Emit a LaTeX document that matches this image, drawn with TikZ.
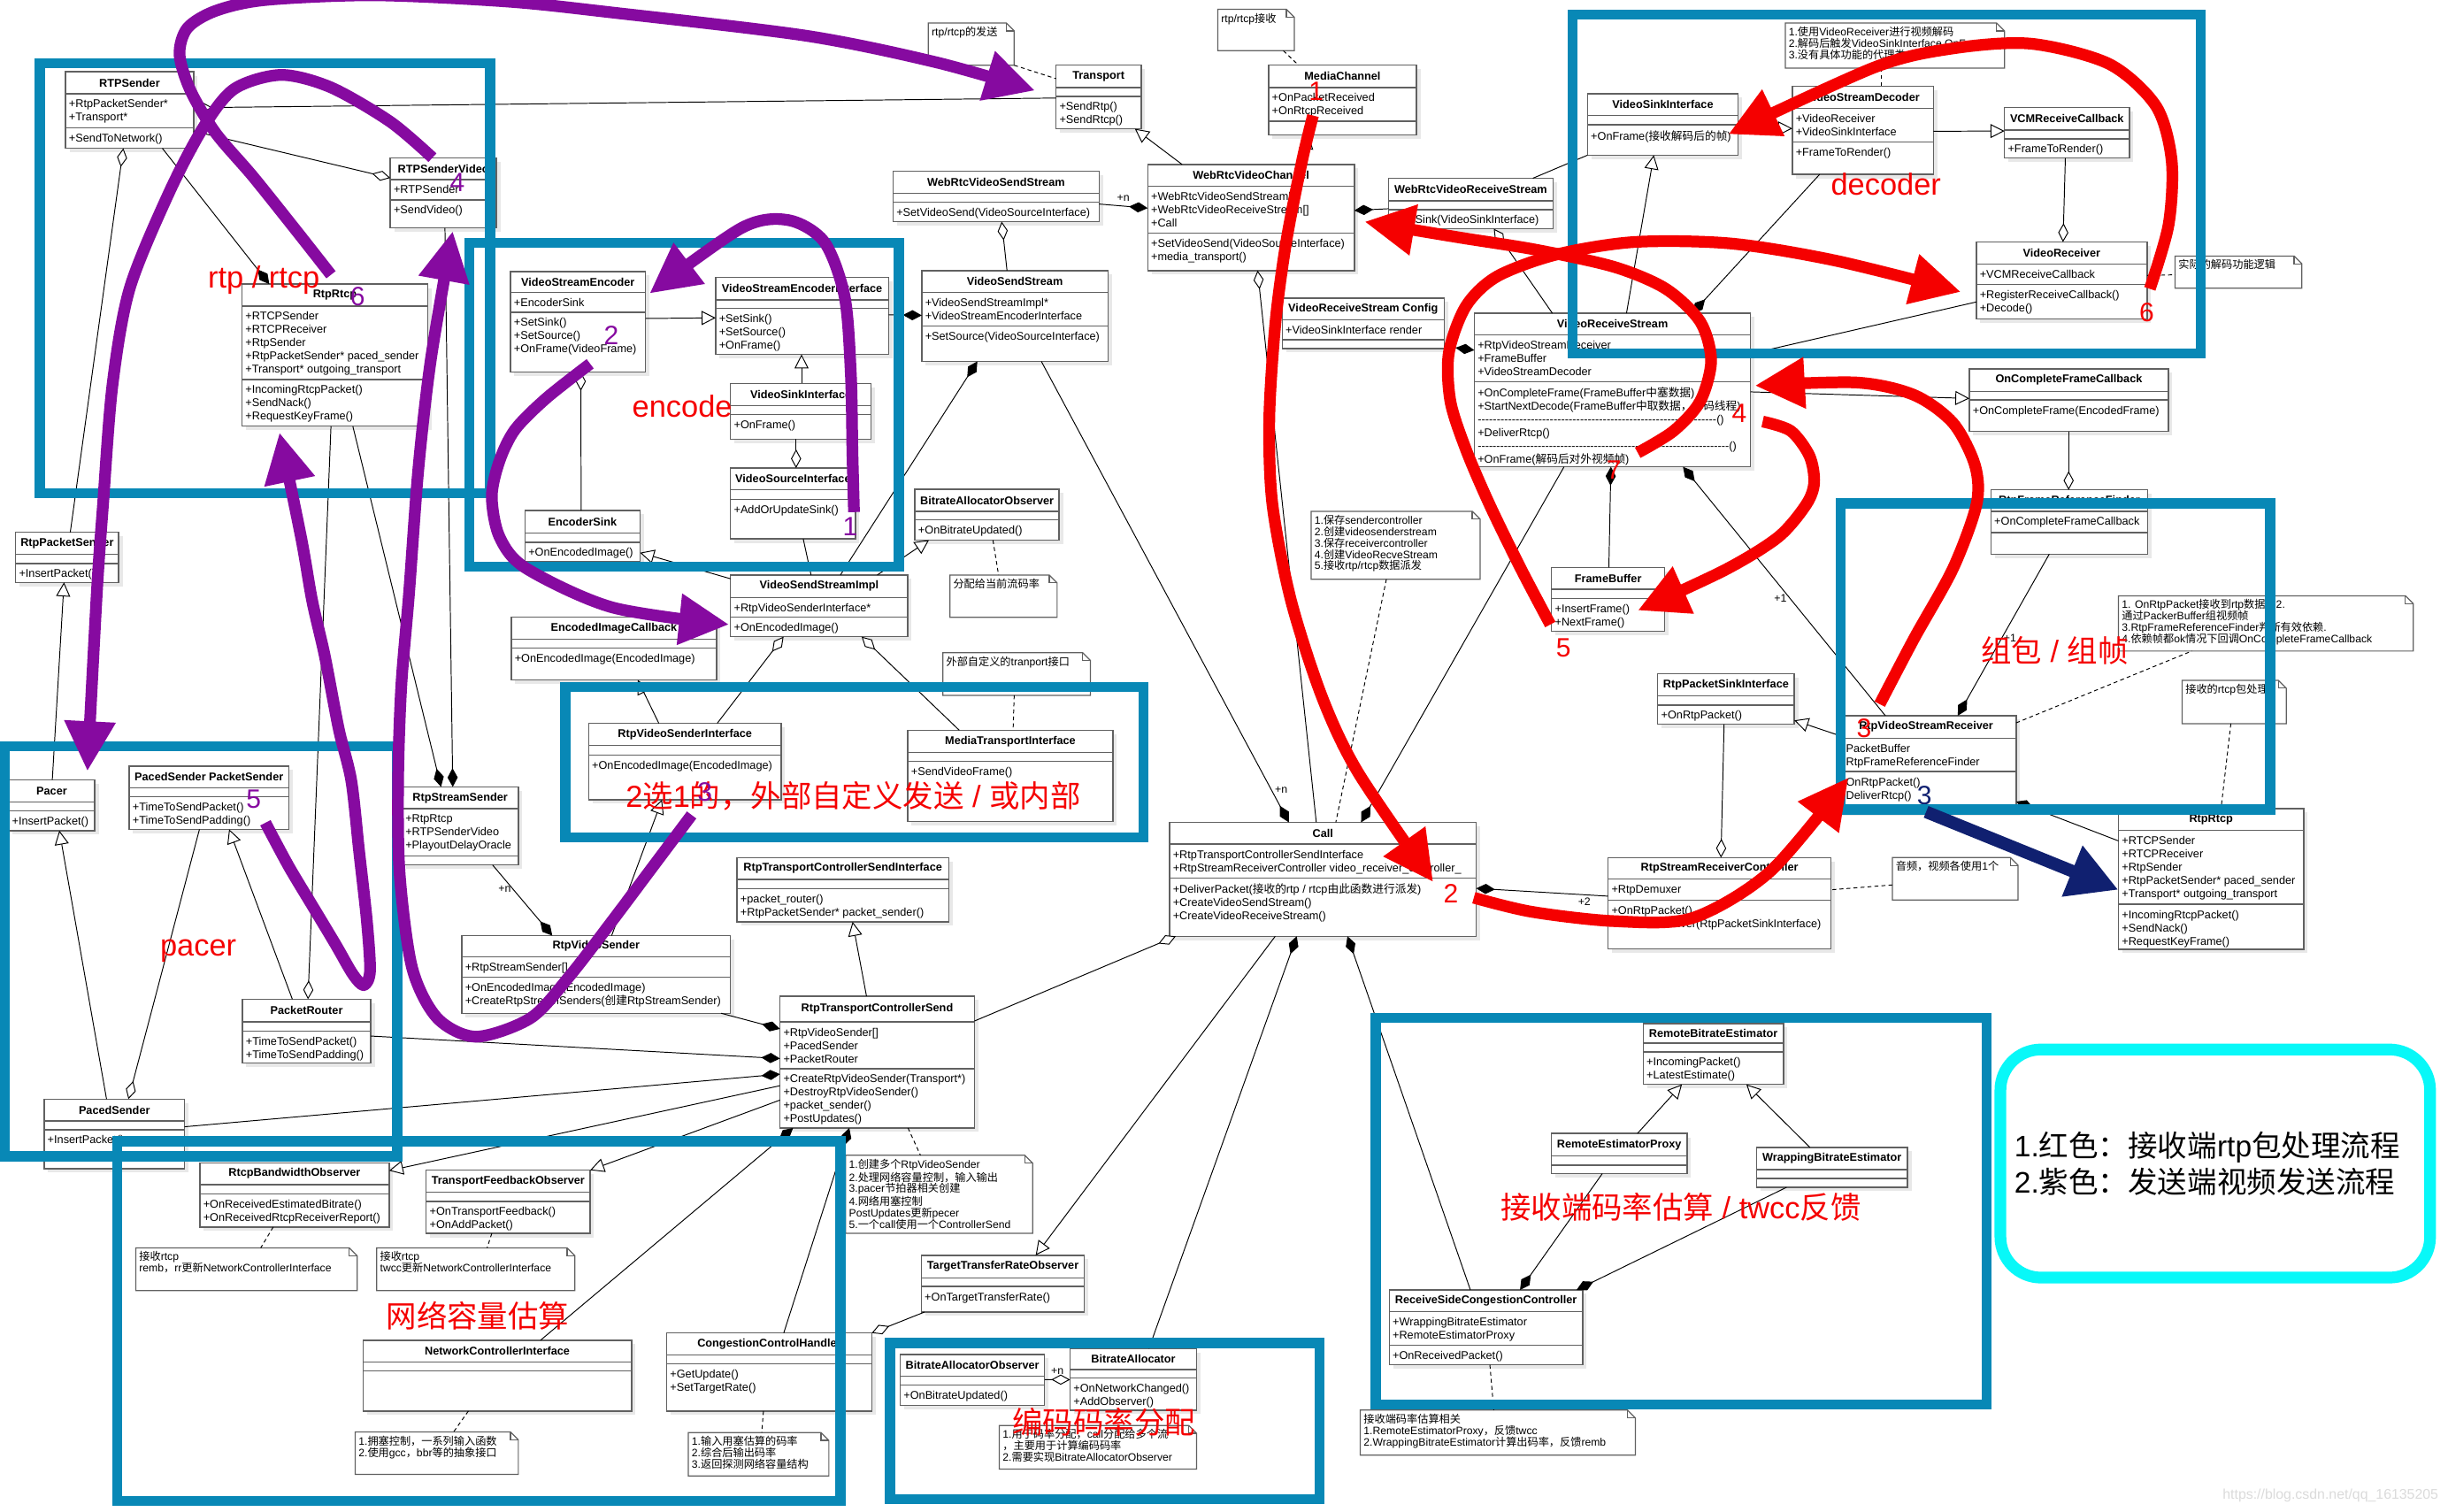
\documentclass[tikz,border=0pt]{standalone}
\usepackage{fontspec}
\setmainfont{Liberation Sans}
\newfontfamily\cjk{Noto Sans CJK SC}
\usetikzlibrary{arrows.meta, calc, fit}

% CJK runs are set in the CJK font
\XeTeXinterchartokenstate=1
\newXeTeXintercharclass\cjkclass
\count255="3000
\loop\ifnum\count255<"A000
  \XeTeXcharclass\count255=\cjkclass
  \advance\count255 by 1
\repeat
\count255="FF00
\loop\ifnum\count255<"FFF0
  \XeTeXcharclass\count255=\cjkclass
  \advance\count255 by 1
\repeat
\XeTeXinterchartoks 0 \cjkclass = {\begingroup\cjk}
\XeTeXinterchartoks 4095 \cjkclass = {\begingroup\cjk}
\XeTeXinterchartoks \cjkclass 0 = {\endgroup}
\XeTeXinterchartoks \cjkclass 4095 = {\endgroup}

\definecolor{frameblue}{RGB}{8,136,182}
\definecolor{flowred}{RGB}{245,0,0}
\definecolor{flowpurple}{RGB}{134,10,160}
\definecolor{flownavy}{RGB}{16,32,112}
\definecolor{legcyan}{RGB}{8,248,248}

\tikzstyle{clsbox}=[draw=black!62, line width=0.8pt, fill=white, inner sep=0pt, outer sep=0pt]
\tikzstyle{clsline}=[draw=black!62, line width=0.8pt]
\tikzstyle{clsshadow}=[fill=black!9]
\tikzstyle{clstitle}=[font=\bfseries\fontsize{7.2}{8.5}\selectfont, inner sep=0pt]
\tikzstyle{clstext}=[font=\fontsize{7.2}{8.5}\selectfont, align=left, anchor=north west, inner sep=0pt]
\tikzstyle{notebox}=[draw=black!62, line width=0.7pt, fill=white]
\tikzstyle{notetext}=[font=\fontsize{6.9}{7.3}\selectfont, align=left, anchor=north west, inner sep=0pt]
\tikzstyle{rel}=[draw=black, line width=0.55pt]
\tikzstyle{inherit}=[rel, -{Triangle[fill=white, length=9pt, width=9pt]}]
\tikzstyle{aggr}=[rel, {Diamond[fill=white, length=12pt, width=6.5pt]}-]
\tikzstyle{aggrend}=[rel, -{Diamond[fill=white, length=12pt, width=6.5pt]}]
\tikzstyle{comp}=[rel, {Diamond[length=12pt, width=6.5pt]}-]
\tikzstyle{compend}=[rel, -{Diamond[length=12pt, width=6.5pt]}]
\tikzstyle{notelink}=[rel, dash pattern=on 2.5pt off 2pt]
\tikzstyle{mult}=[font=\fontsize{7}{7}\selectfont, inner sep=0pt]
\tikzstyle{zone}=[draw=frameblue, line width=6.5pt, inner sep=0pt]
\tikzstyle{bigred}=[text=flowred, font=\fontsize{19.5}{19.5}\selectfont, inner sep=0pt]
\tikzstyle{num}=[font=\fontsize{17}{17}\selectfont, inner sep=0pt]
\tikzstyle{sendflow}=[draw=flowpurple, line width=7.5pt, line join=round, -{Triangle[length=32pt, width=31pt]}]
\tikzstyle{recvflow}=[draw=flowred, line width=7.5pt, line join=round, -{Triangle[length=32pt, width=31pt]}]
\tikzstyle{navyflow}=[draw=flownavy, line width=8pt, -{Triangle[length=32pt, width=33pt]}]

% class box: name, NW corner, SE corner, header bottom, attribute bottom, title, attributes, methods
\newcommand{\umlcls}[8]{%
  \fill[clsshadow] ($(#2)+(2.5,2.5)$) rectangle ($(#3)+(2.5,2.5)$);
  \node[clsbox, fit={(#2) (#3)}] (#1) {};
  \path (#1.west |- 0,#4) coordinate (#1-a) (#1.west |- 0,#5) coordinate (#1-b);
  \draw[clsline] (#1-a) -- (#1.east |- #1-a);
  \draw[clsline] (#1-b) -- (#1.east |- #1-b);
  \node[clstitle] (#1-t) at ($(#1.north)!.5!(#1.north |- #1-a)$) {#6};
  \node[clstext] (#1-f) at ([shift={(2pt,-3.6pt)}]#1-a) {#7};
  \node[clstext] (#1-m) at ([shift={(2pt,-3.6pt)}]#1-b) {#8};
}
% note with folded corner
\newcommand{\umlnote}[4]{%
  \node[fit={(#2) (#3)}, inner sep=0pt, outer sep=0pt] (#1) {};
  \filldraw[notebox] (#1.north west) -- ([xshift=-5pt]#1.north east) -- ([yshift=-5pt]#1.north east) -- (#1.south east) -- (#1.south west) -- cycle;
  \draw[notebox, fill=none] ([xshift=-5pt]#1.north east) |- ([yshift=-5pt]#1.north east);
  \node[notetext] (#1-t) at ([shift={(2pt,-2.2pt)}]#1.north west) {#4};
}
\newcommand{\dashrow}[1]{\hbox to #1{\xleaders\hbox{-}\hfill}()}
\newcommand{\rtcpattrs}{+RTCPSender\\+RTCPReceiver\\+RtpSender\\+RtpPacketSender* paced\_sender\\+Transport* outgoing\_transport}
\newcommand{\rtcpmeths}{+IncomingRtcpPacket()\\+SendNack()\\+RequestKeyFrame()}

\begin{document}
\begin{tikzpicture}[x=1pt, y=-1pt]
\useasboundingbox (0,0) rectangle (1568,968);
\fill[white] (0,0) rectangle (1568,968);

% sender classes
\umlcls{RTPSender}{42,46}{124,95}{60}{82}{RTPSender}{+RtpPacketSender*\\+Transport*}{+SendToNetwork()}
\umlcls{RTPSenderVideo}{250,101}{318,146}{115}{128}{RTPSenderVideo}{+RTPSender}{+SendVideo()}
\umlcls{RtpRtcpL}{155,182}{274,273}{196}{243}{RtpRtcp}{\rtcpattrs}{\rtcpmeths}
\umlcls{RtpPacketSender}{10,341}{76,373}{355}{361}{RtpPacketSender}{}{+InsertPacket()}
\umlcls{Pacer}{5.5,499.5}{60.75,532}{513.7}{519.5}{Pacer}{}{+InsertPacket()}
\umlcls{PacedSenderPS}{82.75,490.7}{185,531.2}{504.5}{510.2}{PacedSender PacketSender}{}{+TimeToSendPacket()\\+TimeToSendPadding()}
\umlcls{PacketRouter}{155.25,640}{237.5,681}{654.6}{660.4}{PacketRouter}{}{+TimeToSendPacket()\\+TimeToSendPadding()}
\umlcls{PacedSender}{28.25,704}{118.25,748.5}{718}{723.6}{PacedSender}{}{+InsertPacket()}
\umlcls{RtpStreamSender}{257.5,504}{332,554}{518}{548.3}{RtpStreamSender}{+RtpRtcp\\+RTPSenderVideo\\+PlayoutDelayOracle}{}
\umlcls{RtpVideoSender}{295.75,599.3}{467.9,649}{613}{625.9}{RtpVideoSender}{+RtpStreamSender[]}{+OnEncodedImage(EncodedImage)\\+CreateRtpStreamSenders(创建RtpStreamSender)}

% encoder classes
\umlcls{VSE}{327,174}{413.4,238.3}{187.2}{200}{VideoStreamEncoder}{+EncoderSink}{+SetSink()\\+SetSource()\\+OnFrame(VideoFrame)}
\umlcls{VSEI}{458.4,177.6}{569.1,227}{192}{197.5}{VideoStreamEncoderInterface}{}{+SetSink()\\+SetSource()\\+OnFrame()}
\umlcls{VideoSinkS}{467.9,245.5}{557.9,281.3}{259.7}{265.4}{VideoSinkInterface}{}{+OnFrame()}
\umlcls{VideoSourceI}{467.9,299.8}{548,345.2}{313.8}{320}{VideoSourceInterface}{}{+AddOrUpdateSink()}
\umlcls{EncoderSink}{336.25,327}{410,359.6}{341.5}{347.3}{EncoderSink}{}{+OnEncodedImage()}
\umlcls{EncodedImageCallback}{327.5,395.4}{459,435.5}{409.4}{415}{EncodedImageCallback}{}{+OnEncodedImage(EncodedImage)}
\umlcls{VSSI}{467.9,368.3}{581.4,407.8}{382.7}{395.4}{VideoSendStreamImpl}{+RtpVideoSenderInterface*}{+OnEncodedImage()}
\umlcls{RVSI}{377,463.3}{500.4,512.3}{477.3}{483.5}{RtpVideoSenderInterface}{}{+OnEncodedImage(EncodedImage)}
\umlcls{MTI}{581.4,467.7}{712.9,526.3}{481.8}{487.6}{MediaTransportInterface}{}{+SendVideoFrame()}
\umlcls{BAOU}{586,313.4}{678.4,346}{327.6}{333}{BitrateAllocatorObserver}{}{+OnBitrateUpdated()}
\umlcls{Transport}{676.4,41.8}{730.9,82.5}{56}{61.7}{Transport}{}{+SendRtp()\\+SendRtcp()}
\umlcls{WRVSS}{572,109.7}{704,142}{123.9}{129.6}{WebRtcVideoSendStream}{}{+SetVideoSend(VideoSourceInterface)}
\umlcls{VSS}{590.4,173.3}{709.6,231.5}{187.2}{208.9}{VideoSendStream}{+VideoSendStreamImpl*\\+VideoStreamEncoderInterface}{+SetSource(VideoSourceInterface)}

% channel, receive and decoder classes
\umlcls{WRVC}{735.1,105.3}{867.5,173.3}{119.3}{149.2}{WebRtcVideoChannel}{+WebRtcVideoSendStream[]\\+WebRtcVideoReceiveStream[]\\+Call}{+SetVideoSend(VideoSourceInterface)\\+media\_transport()}
\umlcls{MediaChannel}{812.5,41.8}{907.3,86.4}{56}{77.6}{MediaChannel}{+OnPacketReceived\\+OnRtcpReceived}{}
\umlcls{WRVRS}{889.3,114.2}{994.8,146.5}{128.6}{134.2}{WebRtcVideoReceiveStream}{}{+SetSink(VideoSinkInterface)}
\umlcls{VRSConfig}{821.3,191}{925,223.3}{204.7}{217.7}{VideoReceiveStream Config}{+VideoSinkInterface render}{}
\umlcls{VRS}{944.3,200.6}{1121.3,299}{214.4}{244.4}{VideoReceiveStream}{+RtpVideoStreamReceiver\\+FrameBuffer\\+VideoStreamDecoder}{+OnCompleteFrame(FrameBuffer中塞数据)\\+StartNextDecode(FrameBuffer中取数据，解码线程)\\\dashrow{153pt}\\+DeliverRtcp()\\\dashrow{161pt}\\+OnFrame(解码后对外视频帧)}
\umlcls{VideoSinkR}{1016.8,60}{1113.3,99.4}{74}{79.8}{VideoSinkInterface}{}{+OnFrame(接收解码后的帧)}
\umlcls{VSD}{1148,55.1}{1238.4,111.7}{69.5}{91}{VideoStreamDecoder}{+VideoReceiver\\+VideoSinkInterface}{+FrameToRender()}
\umlcls{VCM}{1283.9,68.9}{1363.9,101.2}{83.3}{88.9}{VCMReceiveCallback}{}{+FrameToRender()}
\umlcls{VideoReceiver}{1265.9,155}{1375.2,204.3}{169.1}{182.1}{VideoReceiver}{+VCMReceiveCallback}{+RegisterReceiveCallback()\\+Decode()}
\umlcls{OCFC}{1261.4,236.2}{1388.9,276.3}{250.6}{256.2}{OnCompleteFrameCallback}{}{+OnCompleteFrame(EncodedFrame)}
\umlcls{RFRF}{1275.2,313.8}{1375.7,354.9}{327.5}{341.1}{RtpFrameReferenceFinder}{+OnCompleteFrameCallback}{}
\umlcls{RVSR}{1176,458.4}{1291.4,520}{472.8}{494.2}{RtpVideoStreamReceiver}{+PacketBuffer\\+RtpFrameReferenceFinder}{+OnRtpPacket()\\+DeliverRtcp()}
\umlcls{RtpRtcpR}{1356.9,517.9}{1475.6,608}{531.8}{579.2}{RtpRtcp}{\rtcpattrs}{\rtcpmeths}
\umlcls{RPSI}{1061.8,431.4}{1149.3,463.9}{445.8}{451.6}{RtpPacketSinkInterface}{}{+OnRtpPacket()}
\umlcls{FrameBuffer}{993.8,363.5}{1066.3,404.3}{377.5}{383.3}{FrameBuffer}{}{+InsertFrame()\\+NextFrame()}
\umlcls{Call}{749.1,526.7}{945.6,599.7}{540.7}{562.3}{Call}{+RtpTransportControllerSendInterface\\+RtpStreamReceiverController video\_receiver\_controller\_}{+DeliverPacket(接收的rtp / rtcp由此函数进行派发)\\+CreateVideoSendStream()\\+CreateVideoReceiveStream()}
\umlcls{RSRC}{1030,549.3}{1172.8,607.6}{563.1}{576.5}{RtpStreamReceiverController}{+RtpDemuxer}{+OnRtpPacket()\\+CreateReceiver(RtpPacketSinkInterface)}

% transport controller and congestion classes
\umlcls{RTCSI}{472.1,549.3}{607.6,590.5}{563.3}{569.3}{RtpTransportControllerSendInterface}{}{+packet\_router()\\+RtpPacketSender* packet\_sender()}
\umlcls{RTCS}{499.6,638}{624.1,722.5}{654.6}{684.5}{RtpTransportControllerSend}{+RtpVideoSender[]\\+PacedSender\\+PacketRouter}{+CreateRtpVideoSender(Transport*)\\+DestroyRtpVideoSender()\\+packet\_sender()\\+PostUpdates()}
\umlcls{RBO}{128,744.8}{249.25,785.9}{758.8}{764.7}{RtcpBandwidthObserver}{}{+OnReceivedEstimatedBitrate()\\+OnReceivedRtcpReceiverReport()}
\umlcls{TFO}{273,749.5}{378,790}{763.7}{769.5}{TransportFeedbackObserver}{}{+OnTransportFeedback()\\+OnAddPacket()}
\umlcls{NCI}{232.5,858.4}{404.6,903.8}{872.3}{878.1}{NetworkControllerInterface}{}{}
\umlcls{CCH}{427,853.8}{558.4,903.8}{867.8}{873.5}{CongestionControlHandler}{}{+GetUpdate()\\+SetTargetRate()}
\umlcls{TTRO}{590.1,804}{694.6,840.4}{818.4}{824}{TargetTransferRateObserver}{}{+OnTargetTransferRate()}
\umlcls{BAOL}{576.6,867.6}{669.1,900.1}{881.6}{887.2}{BitrateAllocatorObserver}{}{+OnBitrateUpdated()}
\umlcls{BA}{685.4,863.7}{766.4,903.2}{877.1}{882.6}{BitrateAllocator}{}{+OnNetworkChanged()\\+AddObserver()}
\umlcls{RBE}{1052.5,655.6}{1142.3,694.6}{668.2}{673.7}{RemoteBitrateEstimator}{}{+IncomingPacket()\\+LatestEstimate()}
\umlcls{REP}{993.6,726}{1080.6,751.7}{740.4}{746.2}{RemoteEstimatorProxy}{}{}
\umlcls{WBE}{1125,734.9}{1221.8,760.5}{749.2}{754.8}{WrappingBitrateEstimator}{}{}
\umlcls{RSCC}{889.8,826.2}{1013.8,874.2}{840}{861.5}{ReceiveSideCongestionController}{+WrappingBitrateEstimator\\+RemoteEstimatorProxy}{+OnReceivedPacket()}

% notes
\umlnote{nSend}{594.6,14.8}{649.6,41.8}{rtp/rtcp的发送}
\umlnote{nRecv}{780,6}{829,32.5}{rtp/rtcp接收}
\umlnote{nDecoder}{1143.5,14.8}{1283.9,43.6}{1.使用VideoReceiver进行视频解码\\2.解码后触发VideoSinkInterface.OnFrame\\3.没有具体功能的代理类}
\umlnote{nReal}{1393.2,164}{1474.4,184.6}{实际的解码功能逻辑}
\umlnote{nAlloc}{608.4,368.3}{677.1,395.4}{分配给当前流码率}
\umlnote{nMedia}{603.9,418}{698.4,445.4}{外部自定义的tranport接口}
\umlnote{nCall}{839.8,327.5}{948,371}{1.保存sendercontroller\\2.创建videosenderstream\\3.保存receivercontroller\\4.创建VideoRecveStream\\5.接收rtp/rtcp数据派发}
\umlnote{nRtpRecv}{1356.9,381.6}{1545.7,417}{1. OnRtpPacket接收到rtp数据。2.\\通过PackerBuffer组视频帧\\3.RtpFrameReferenceFinder判断有效依赖.\\4.依赖帧都ok情况下回调OnCompleteFrameCallback}
\umlnote{nRtcp}{1397.7,435.8}{1464.4,463.5}{接收的rtcp包处理}
\umlnote{nAudio}{1212.1,549.3}{1292.6,576.5}{音频，视频各使用1个}
\umlnote{nCtrl}{541.6,740}{661.4,790}{1.创建多个RtpVideoSender\\2.处理网络容量控制，输入输出\\3.pacer节拍器相关创建\\4.网络用塞控制\\PostUpdates更新pecer\\5.一个call使用一个ControllerSend}
\umlnote{nRemb}{87,799.3}{228.75,826.7}{接收rtcp\\remb，rr更新NetworkControllerInterface}
\umlnote{nTwcc}{241.25,799.3}{368.25,826.7}{接收rtcp\\twcc更新NetworkControllerInterface}
\umlnote{nNci}{227.5,917.2}{332,944.4}{1.拥塞控制，一系列输入函数\\2.使用gcc，bbr等的抽象接口}
\umlnote{nCch}{440.9,917.6}{530.9,945.4}{1.输入用塞估算的码率\\2.综合后输出码率\\3.返回探测网络容量结构}
\umlnote{nBa}{640.1,913}{766.4,940.9}{1.用于码率分配，call分配给多个流\\，主要用于计算编码码率\\2.需要实现BitrateAllocatorObserver}
\umlnote{nRscc}{871.3,903.2}{1047.5,932}{接收端码率估算相关\\1.RemoteEstimatorProxy，反馈twcc\\2.WrappingBitrateEstimator计算出码率，反馈remb}

% relations
\draw[aggr] ([yshift=-23pt]RTPSender.north east) -- ([yshift=-21pt]Transport.north west);
\draw[aggrend] ([yshift=-38pt]RTPSender.north east) -- ([yshift=-13pt]RTPSenderVideo.north west);
\draw[compend] ([xshift=-20pt]RTPSender.south east) -- ([xshift=17.5pt]RtpRtcpL.north west);
\draw[aggr] ([xshift=37pt]RTPSender.south west) -- ([xshift=35pt]RtpPacketSender.north west);
\draw[aggrend] ([xshift=57pt]RtpRtcpL.south west) -- ([xshift=42pt]PacketRouter.north west);
\draw[compend] ([xshift=71pt]RtpRtcpL.south west) -- ([xshift=25pt]RtpStreamSender.north west);
\draw[compend] ([xshift=35pt]RTPSenderVideo.south west) -- ([xshift=32.5pt]RtpStreamSender.north west);
\draw[inherit] ([xshift=28pt]Pacer.north west) -- ([xshift=31pt]RtpPacketSender.south west);
\draw[inherit] ([xshift=40pt]PacedSender.north west) -- ([xshift=32.5pt]Pacer.south west);
\draw[aggrend] ([xshift=45pt]PacedSenderPS.south west) -- ([xshift=54pt]PacedSender.north west);
\draw[inherit] ([xshift=32pt]PacketRouter.north west) -- ([xshift=64pt]PacedSenderPS.south west);
\draw[compend] ([yshift=-23.6pt]PacketRouter.north east) -- ([yshift=-40pt]RTCS.north west);
\draw[compend] ([yshift=-17.7pt]PacedSender.north east) -- ([yshift=-50pt]RTCS.north west);
\draw[inherit] ([yshift=-57.4pt]RTCS.north west) -- ([yshift=-5pt]RBO.north east);
\draw[inherit] ([yshift=-66.6pt]RTCS.north west) -- (TFO.north east);
\draw[comp] ([xshift=8.4pt]RTCS.south west) -- ([xshift=113.75pt]NCI.north west);
\draw[comp] ([xshift=44.4pt]RTCS.south west) -- ([xshift=75pt]CCH.north west);
\draw[compend] ([xshift=-6pt]RtpVideoSender.south east) -- ([yshift=-21pt]RTCS.north west);
\draw[compend] ([xshift=-16.5pt]RtpStreamSender.south east) -- node[mult, pos=.34, left=1pt] {+n} ([xshift=58pt]RtpVideoSender.north west);
\draw[inherit] ([xshift=96pt]RtpVideoSender.north west) -- ([xshift=47pt]RVSI.south west);
\draw[inherit] ([xshift=45pt]RVSI.north west) -- ([xshift=81pt]EncodedImageCallback.south west);
\draw[aggr] ([xshift=34pt]VSSI.south west) -- ([xshift=-41pt]RVSI.north east);
\draw[aggr] ([xshift=84pt]VSSI.south west) -- ([xshift=33pt]MTI.north west);
\draw[inherit] ([yshift=-2.4pt]VSSI.north west) -- ([yshift=-27pt]EncoderSink.north east);
\draw[rel] ([xshift=46.6pt]VideoSourceI.south west) -- ([xshift=51.6pt]VSSI.north west);
\draw[inherit] ([xshift=94pt]VSSI.north west) -- ([xshift=9pt]BAOU.south west);
\draw[comp] ([xshift=35.6pt]VSS.south west) -- ([xshift=70.4pt]VSSI.north west);
\draw[compend] ([xshift=76.6pt]VSS.south west) -- node[mult, pos=.93, right=2pt] {+n} ([xshift=76.4pt]Call.north west);
\draw[compend] ([yshift=-24pt]VSEI.north east) -- ([yshift=-28.7pt]VSS.north west);
\draw[inherit] ([yshift=-30pt]VSE.north east) -- ([yshift=-26pt]VSEI.north west);
\draw[inherit] ([xshift=45.5pt]VideoSinkS.north west) -- ([xshift=55pt]VSEI.south west);
\draw[aggrend] ([xshift=42pt]VideoSinkS.south west) -- ([xshift=42pt]VideoSourceI.north west);
\draw[aggr] ([xshift=45pt]VSE.south west) -- ([xshift=36pt]EncoderSink.north west);
\draw[notelink] (nSend.south east) -- ([yshift=-8.6pt]Transport.north west);
\draw[inherit] ([xshift=22pt]WRVC.north west) -- ([xshift=-4pt]Transport.south east);
\draw[compend] ([yshift=-21pt]WRVSS.north east) -- node[mult, above=3pt] {+n} ([yshift=-28pt]WRVC.north west);
\draw[aggr] ([xshift=69.6pt]WRVSS.south west) -- ([xshift=54.6pt]VSS.north west);
\draw[inherit] ([xshift=100pt]WRVC.north west) -- ([xshift=25.5pt]MediaChannel.south west);
\draw[notelink] ([xshift=-7pt]nRecv.south east) -- ([xshift=19.3pt]MediaChannel.north west);
\draw[compend] ([yshift=-19.5pt]WRVRS.north west) -- ([yshift=-29.5pt]WRVC.north east);
\draw[aggr] ([xshift=70.4pt]WRVC.south west) -- ([xshift=94pt]Call.north west);
\draw[aggr] ([xshift=67.5pt]WRVRS.south west) -- ([xshift=50pt]VRS.north west);
\draw[rel] ([xshift=-13pt]WRVRS.north east) -- (VideoSinkR.south west);
\draw[compend] ([yshift=-30.8pt]VRSConfig.north east) -- ([yshift=-23.7pt]VRS.north west);
\draw[inherit] ([xshift=97.5pt]VRS.north west) -- ([xshift=42.5pt]VideoSinkR.south west);
\draw[compend] ([xshift=17.5pt]VSD.south west) -- ([xshift=139.7pt]VRS.north west);
\draw[inherit] ([yshift=-22.3pt]VideoSinkR.north east) -- ([yshift=-27.2pt]VSD.north west);
\draw[inherit] ([yshift=-29pt]VSD.north east) -- ([yshift=-15pt]VCM.north west);
\draw[aggrend] ([xshift=39pt]VCM.south west) -- ([xshift=55.5pt]VideoReceiver.north west);
\draw[notelink] ([xshift=61.5pt]nDecoder.south west) -- ([xshift=57pt]VSD.north west);
\draw[notelink] ([yshift=-21.5pt]VideoReceiver.north east) -- ([yshift=-12pt]nReal.north west);
\draw[rel] ([yshift=-26pt]VRS.north east) -- ([yshift=-38.4pt]VideoReceiver.north west);
\draw[inherit] ([yshift=-50.4pt]VRS.north east) -- ([yshift=-19pt]OCFC.north west);
\draw[aggrend] ([xshift=63.6pt]OCFC.south west) -- ([xshift=49.8pt]RFRF.north west);
\draw[compend] ([xshift=37.4pt]RFRF.south west) -- node[mult, pos=.52, right=1pt] {+1} ([xshift=78pt]RVSR.north west);
\draw[comp] ([xshift=133.7pt]VRS.south west) -- node[mult, pos=.53, left=2pt] {+1} ([xshift=31.6pt]RVSR.north west);
\draw[comp] ([xshift=87.5pt]VRS.south west) -- ([xshift=36.7pt]FrameBuffer.north west);
\draw[compend] ([xshift=57.5pt]VRS.south west) -- ([xshift=122.7pt]Call.north west);
\draw[notelink] ([xshift=48.2pt]nCall.south west) -- ([xshift=106.5pt]Call.north west);
\draw[inherit] ([yshift=-12pt]RVSR.north west) -- ([yshift=-30pt]RPSI.north east);
\draw[aggrend] ([xshift=42.5pt]RPSI.south west) -- ([xshift=72.3pt]RSRC.north west);
\draw[compend] ([yshift=-24.7pt]RSRC.north west) -- node[mult, pos=.18, below=2pt] {+2} ([yshift=-42.3pt]Call.north east);
\draw[notelink] ([yshift=-17.5pt]nAudio.north west) -- ([yshift=-20.6pt]RSRC.north east);
\draw[notelink] ([yshift=-4.6pt]RVSR.north east) -- ([xshift=47pt]nRtpRecv.south west);
\draw[notelink] ([xshift=31.2pt]nRtcp.south west) -- ([xshift=65.7pt]RtpRtcpR.north west);
\draw[comp] ([yshift=-55pt]RVSR.north east) -- ([yshift=-20.7pt]RtpRtcpR.north west);
\draw[aggr] ([xshift=4pt]Call.south west) -- ([yshift=-16pt]RTCS.north east);
\draw[inherit] ([xshift=55.4pt]RTCS.north west) -- ([xshift=74pt]RTCSI.south west);
\draw[inherit] ([xshift=67.7pt]Call.south west) -- ([xshift=73.3pt]TTRO.north west);
\draw[comp] ([xshift=81.5pt]Call.south west) -- ([xshift=50.5pt]BA.north west);
\draw[comp] ([xshift=114pt]Call.south west) -- ([xshift=52pt]RSCC.north west);
\draw[notelink] ([xshift=82pt]RTCS.south west) -- ([xshift=48pt]nCtrl.north west);
\draw[aggrend] ([xshift=2pt]TTRO.south west) -- (CCH.north east);
\draw[notelink] ([xshift=62pt]CCH.south west) -- ([xshift=47pt]nCch.north west);
\draw[aggrend] ([yshift=-16pt]BAOL.north east) -- node[mult, above=3pt] {+n} ([yshift=-20pt]BA.north west);
\draw[notelink] ([xshift=47pt]RBO.south west) -- ([xshift=80pt]nRemb.north west);
\draw[notelink] ([xshift=42pt]TFO.south west) -- ([xshift=70.75pt]nTwcc.north west);
\draw[notelink] ([xshift=67.5pt]NCI.south west) -- ([xshift=63pt]nNci.north west);
\draw[inherit] ([xshift=55.2pt]REP.north west) -- ([xshift=24.8pt]RBE.south west);
\draw[inherit] ([xshift=34.3pt]WBE.north west) -- ([xshift=66.1pt]RBE.south west);
\draw[compend] ([xshift=32.7pt]REP.south west) -- ([xshift=83.8pt]RSCC.north west);
\draw[compend] ([xshift=19.3pt]WBE.south west) -- ([xshift=-4pt]RSCC.north east);
\draw[notelink] ([xshift=64.5pt]RSCC.south west) -- ([xshift=85.5pt]nRscc.north west);
\draw[notelink] ([xshift=50pt]BAOU.south west) -- ([xshift=31.2pt]nAlloc.north west);
\draw[notelink] ([xshift=45.7pt]nMedia.south west) -- ([xshift=67.5pt]MTI.north west);

\node[num, text=flownavy] (n3) at (1232.6,509.7) {3};

% blue zones
\node[zone, fit={(25.5,40.4) (314,316)}] (zoneRtp) {};
\node[zone, fit={(300.6,155.5) (575.8,363)}] (zoneEncode) {};
\node[zone, fit={(362,440) (732.5,536.5)}] (zoneChoice) {};
\node[zone, fit={(1007.4,9.3) (1409.5,226.3)}] (zoneDecoder) {};
\node[zone, fit={(1179,322.5) (1454,518.5)}] (zoneFrame) {};
\node[zone, fit={(75.1,730.9) (538.4,961.4)}] (zoneNet) {};
\node[zone, fit={(570.2,860.3) (845.2,960.3)}] (zoneAlloc) {};
\node[zone, fit={(3,478) (254.5,740.7)}] (zonePacer) {};
\node[zone, fit={(881.1,652.1) (1272.6,899.5)}] (zoneRemb) {};

% legend
\node[draw=legcyan, line width=7.5pt, rounded corners=26pt, inner sep=0pt, fit={(1281.3,672.2) (1556.5,818.3)}] (legend) {};
\node[font=\fontsize{19}{23.5}\selectfont, align=left, anchor=west, inner sep=0pt] (legendtxt) at ([xshift=12.5pt]legend.west) {1.红色：接收端rtp包处理流程\\2.紫色：发送端视频发送流程};
\node[font=\fontsize{9}{9}\selectfont, text=black!14, anchor=east, inner sep=0pt] (wm) at (1562,958) {https://blog.csdn.net/qq\_16135205};

% red zone labels
\node[bigred] (lblRtp) at (169,179.5) {rtp / rtcp};
\node[bigred] (lblEncode) at (437,260) {encode};
\node[bigred] (lblPacer) at (127,609) {pacer};
\node[bigred] (lblDecoder) at (1208,118) {decoder};
\node[bigred] (lblChoice) at (546.5,510) {2选1的，外部自定义发送 / 或内部};
\node[bigred] (lblFrame) at (1316,417) {组包 / 组帧};
\node[bigred] (lblNet) at (306,843) {网络容量估算};
\node[bigred] (lblAlloc) at (707,911) {编码码率分配};
\node[bigred] (lblRemb) at (1076.6,773) {接收端码率估算 / twcc反馈};

% send flow
\draw[sendflow] plot[smooth] coordinates {(547,328) (546,290) (545,240) (541,190) (528,155) (505,141) (475,146) (416,188)};
\draw[sendflow] plot[smooth] coordinates {(378,233) (350,255) (330,275) (320,295) (315,318) (320,344) (337,364) (392,389) (467,400)};
\draw[sendflow] plot[smooth] coordinates {(443,522) (416,558) (392,590) (365,625) (340,652) (305,664) (280,652) (264,620) (256,560) (255,500) (257,440) (262,380) (268,300) (276,230) (290,148)};
\draw[sendflow] plot[smooth] coordinates {(277,101) (250,78) (212,56) (180,48) (150,57) (130,82) (108,124) (83,185) (72,247) (66,323) (62,380) (56,494)};
\draw[sendflow] plot[smooth] coordinates {(170,527) (185,555) (200,580) (215,605) (226,624) (233,631) (237,622) (235,590) (230,545) (225,500) (217,467) (208,420) (200,385) (193,345) (179,277)};
\draw[sendflow] plot[smooth] coordinates {(212,176) (190,148) (162,113) (138,85) (122,58) (115,35) (120,18) (138,7) (170,0) (240,-3) (325,1) (392,8) (517,23) (600,40) (663,58)};

% receive flow
\draw[recvflow] plot[smooth] coordinates {(841,74) (834,103) (824,154) (817,206) (813,268) (815,323) (827,385) (847,447) (870,495) (918,565)};
\draw[recvflow] plot[smooth] coordinates {(944,575) (981,584) (1034,590) (1084,588) (1134,558) (1184,498)};
\draw[recvflow] plot[smooth] coordinates {(1204,451) (1226,409) (1251,364) (1266,323) (1265,298) (1251,271) (1226,253) (1189,245) (1124,247)};
\draw[recvflow] plot[smooth] coordinates {(1129,270) (1147,276) (1159,292) (1162,309) (1157,323) (1139,344) (1105,365) (1049,391)};
\draw[recvflow] plot[smooth] coordinates {(993,400) (974,364) (954,323) (939,288) (929,257) (928,226) (939,196) (959,177) (997,163) (1047,155) (1109,156) (1176,167) (1256,187)};
\draw[recvflow] plot[smooth] coordinates {(1377,185) (1389,144) (1391,103) (1381,68) (1351,41) (1301,28) (1251,31) (1201,43) (1107,86)};
\draw[recvflow] plot[smooth] coordinates {(1049,290) (1072,276) (1089,257) (1096,231) (1089,206) (1067,185) (1034,171) (984,160) (934,152) (874,142)};
\draw[navyflow] (RVSR.south) -- ([yshift=-7pt]RtpRtcpR.west);

% step numbers
\node[num, text=flowpurple] (p1) at (544.6,337) {1};
\node[num, text=flowpurple] (p2) at (391.5,215) {2};
\node[num, text=flowpurple] (p3) at (451.5,507.5) {3};
\node[num, text=flowpurple] (p4) at (293,117) {4};
\node[num, text=flowpurple] (p5) at (162.5,512) {5};
\node[num, text=flowpurple] (p6) at (229,190) {6};
\node[num, text=flowred] (r1) at (843,58.6) {1};
\node[num, text=flowred] (r2) at (929.3,572.4) {2};
\node[num, text=flowred] (r3) at (1194,466.5) {3};
\node[num, text=flowred] (r4) at (1114,265) {4};
\node[num, text=flowred] (r5) at (1001.5,415) {5};
\node[num, text=flowred] (r6) at (1375,200) {6};
\node[num, text=flowred] (r7) at (1033.7,301) {7};
\end{tikzpicture}
\end{document}
